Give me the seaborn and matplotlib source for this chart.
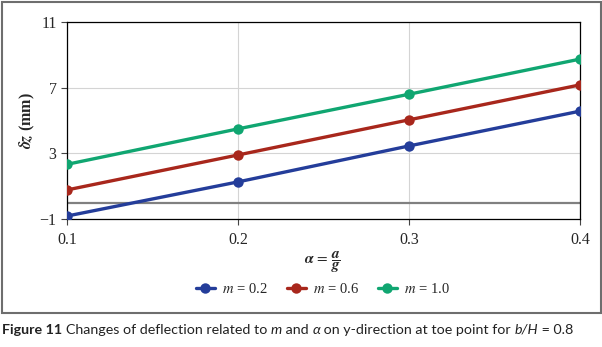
import matplotlib
matplotlib.use("Agg")
import matplotlib.pyplot as plt
import seaborn as sns
import pandas as pd
from matplotlib.patches import Rectangle

# values
alpha = [0.1, 0.2, 0.3, 0.4]
m_labels = ["$m$ = 0.2", "$m$ = 0.6", "$m$ = 1.0"]
dz_m02 = [-0.82, 1.26, 3.45, 5.57]
dz_m06 = [0.77, 2.90, 5.04, 7.17]
dz_m10 = [2.33, 4.49, 6.60, 8.74]
y_ticks = [-1, 3, 7, 11]
# caption pieces: (text, weight, style)
caption = [
    ("Figure 11 ", "bold", "normal"),
    ("Changes of deflection related to ", "normal", "normal"),
    ("m", "normal", "italic"),
    (" and ", "normal", "normal"),
    ("α", "normal", "italic"),
    (" on y-direction at toe point for ", "normal", "normal"),
    ("b/H", "normal", "italic"),
    (" = 0.8", "normal", "normal"),
]


def draw_caption(fig, y, x0, size):
    fig.canvas.draw()
    x = x0
    texts = []
    for s, w, st in caption:
        t = fig.text(x / fig.bbox.width, y, s, ha="left", va="center", fontsize=size,
                     fontweight=w, fontstyle=st, family=["Lato", "DejaVu Sans"],
                     color="#222222")
        fig.canvas.draw()
        x = t.get_window_extent().x1
        texts.append(t)
    return texts, x - x0


def main():
    sns.set_style("white")
    plt.rcParams["font.family"] = ["Liberation Serif", "DejaVu Serif"]
    plt.rcParams["mathtext.fontset"] = "stix"

    df = pd.DataFrame({
        "alpha": alpha * 3,
        "dz": dz_m02 + dz_m06 + dz_m10,
        "m": [m_labels[0]] * 4 + [m_labels[1]] * 4 + [m_labels[2]] * 4,
    })
    colors = ["#243d9a", "#a8271c", "#10a671"]

    fig = plt.figure(figsize=(6.02, 3.47), dpi=100)
    ax = fig.add_axes([67 / 602, 1 - 219 / 347, (580 - 67) / 602, (219 - 22) / 347])

    ax.axhline(0, color="#808080", lw=1.6, zorder=1)
    sns.lineplot(data=df, x="alpha", y="dz", hue="m", palette=colors,
                 marker="o", markersize=7.5, markeredgewidth=0, linewidth=2.4,
                 ax=ax, zorder=3, legend=True)

    ax.set_xlim(0.1, 0.4)
    ax.set_ylim(-1, 11)
    ax.set_xticks(alpha)
    ax.set_xticklabels(["0.1", "0.2", "0.3", "0.4"])
    ax.set_yticks(y_ticks)
    ax.set_yticklabels(["\u22121", "3", "7", "11"])
    ax.grid(True, color="#d4d4d4", lw=0.8)
    ax.set_axisbelow(True)
    for s in ax.spines.values():
        s.set_color("black")
        s.set_linewidth(0.9)
    ax.tick_params(axis="both", which="both", length=4, width=0.8, color="#444444",
                   labelsize=11.5, direction="out", bottom=True, left=True)
    ax.tick_params(axis="x", pad=5)

    ax.set_ylabel(r"$\boldsymbol{\delta z}$ (mm)", fontsize=11.5, fontweight="bold", labelpad=2)
    ax.set_xlabel("")
    fig.text(322 / 602, 1 - 262 / 347,
             r"$\boldsymbol{\alpha}\,=\,\dfrac{\boldsymbol{a}}{\boldsymbol{g}}$",
             ha="center", va="center", fontsize=11)

    handles, labels = ax.get_legend_handles_labels()
    ax.legend(handles, labels, loc="center", bbox_to_anchor=(323 / 602, 1 - 289 / 347),
              bbox_transform=fig.transFigure, ncol=3, frameon=False, fontsize=10.5,
              handlelength=1.3, columnspacing=1.3, handletextpad=0.5)

    fig.patches.append(Rectangle((1.5 / 602, 1 - 313 / 347), 599 / 602, 311 / 347,
                                 transform=fig.transFigure, fill=False,
                                 edgecolor="#6e6e6e", lw=1.5))

    # fit the caption to the reference width
    size = 10.5
    texts, w = draw_caption(fig, 1 - 330 / 347, 2, size)
    for t in texts:
        t.remove()
    draw_caption(fig, 1 - 330 / 347, 2, size * 573 / w)

    fig.savefig("out.png", dpi=100)
    plt.close(fig)


if __name__ == "__main__":
    main()
